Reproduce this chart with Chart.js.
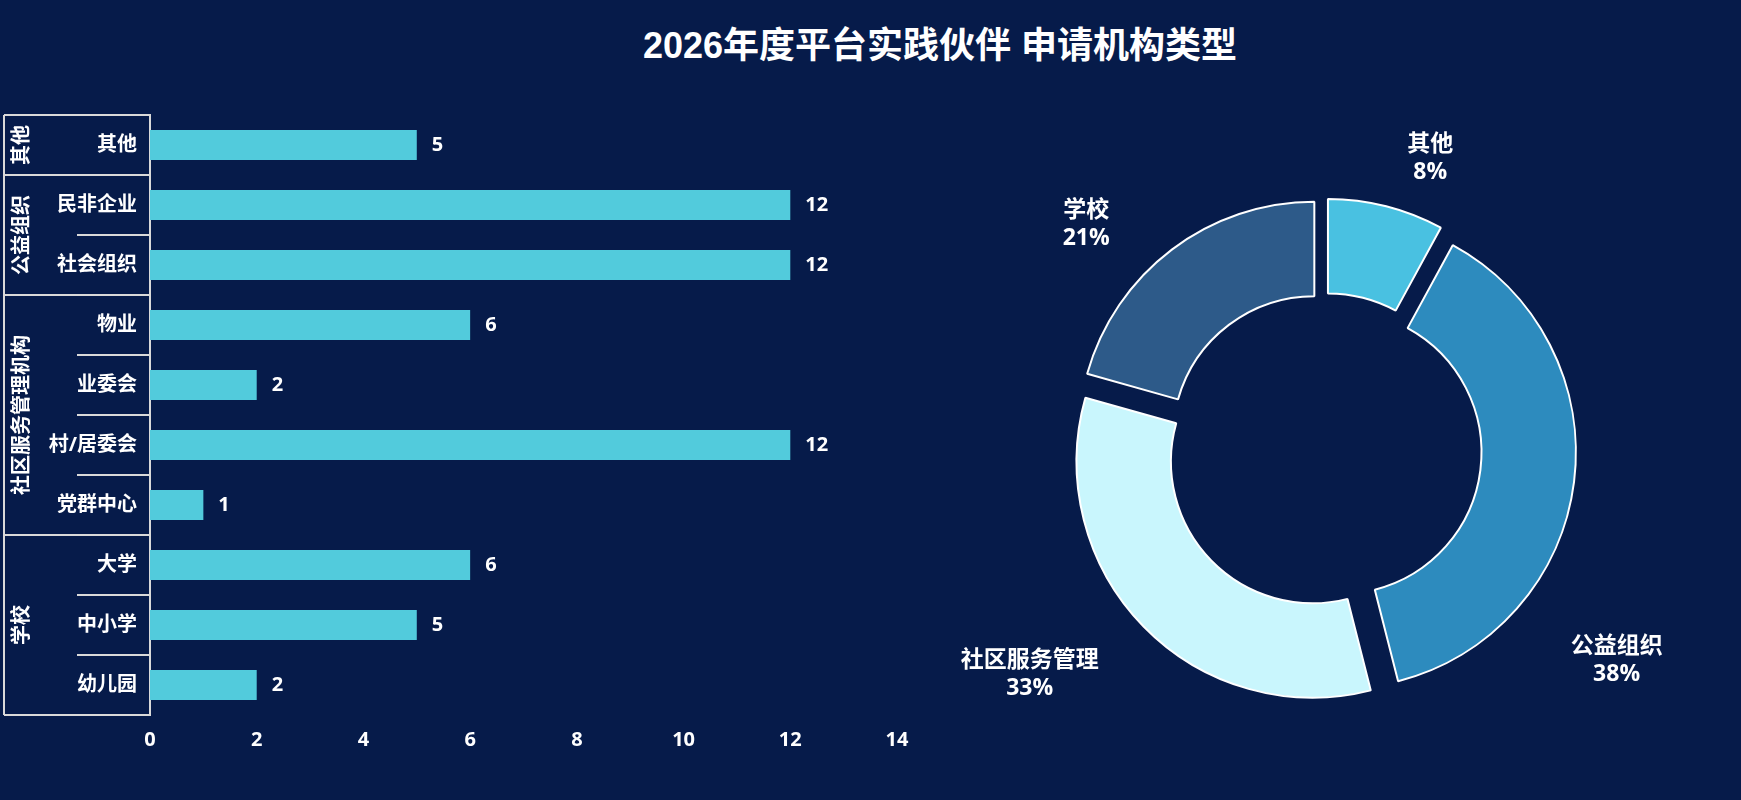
<!DOCTYPE html>
<html lang="zh-CN">
<head>
<meta charset="utf-8">
<title>2026年度平台实践伙伴 申请机构类型</title>
<script src="https://cdn.jsdelivr.net/npm/chart.js@4.4.1/dist/chart.umd.min.js"></script>
<style>
  html, body { margin: 0; padding: 0; background: #061b4a; }
  body { width: 1741px; height: 800px; position: relative; overflow: hidden; }
  #title {
    position: absolute; left: 940px; top: 26px; transform: translateX(-50%);
    color: #fff; white-space: nowrap;
    font: bold 36px/40px "Liberation Sans", "Noto Sans CJK SC", sans-serif;
  }
  #barChart { position: absolute; left: 0; top: 0; }
  #pieChart { position: absolute; left: 960px; top: 0; }
</style>
</head>
<body>
<div id="title">2026年度平台实践伙伴 申请机构类型</div>
<canvas id="barChart" width="930" height="800"></canvas>
<canvas id="pieChart" width="781" height="800"></canvas>
<script>
        // bar chart: institutions, grouped by type (top to bottom)
        const categories = ['其他', '民非企业', '社会组织', '物业', '业委会', '村/居委会', '党群中心', '大学', '中小学', '幼儿园'];
        const counts = [5, 12, 12, 6, 2, 12, 1, 6, 5, 2];
        const groupNames = ['其他', '公益组织', '社区服务管理机构', '学校'];
        const groupSizes = [1, 2, 4, 3];
        const xTicks = [0, 2, 4, 6, 8, 10, 12, 14];

        // doughnut: share by type, clockwise from 12 o'clock
        const pieLabels = ['其他', '公益组织', '社区服务管理', '学校'];
        const pieValues = [5, 24, 21, 13];

        const FONT = '"Open Sans", "Noto Sans CJK SC", sans-serif';
        Chart.defaults.font.family = FONT;
        Chart.defaults.color = '#ffffff';

        // group brackets and rotated group names left of the category labels
        const groupAxisPlugin = {
            id: 'groupAxis',
            afterDraw(chart, args, opts) {
                const { ctx, scales: { y } } = chart;
                const band = (y.bottom - y.top) / categories.length;
                const line = (x1, y1, x2, y2) => {
                    ctx.beginPath();
                    ctx.moveTo(x1, y1);
                    ctx.lineTo(x2, y2);
                    ctx.stroke();
                };

                ctx.save();
                ctx.strokeStyle = opts.color;
                ctx.lineWidth = 2;
                line(opts.left, y.top, opts.left, y.bottom);

                let start = 0;
                groupSizes.forEach((size, g) => {
                    const top = y.top + start * band;
                    const bottom = top + size * band;
                    line(opts.left, top, y.right, top);
                    for (let k = 1; k < size; k++) {
                        line(opts.inner, top + k * band, y.right, top + k * band);
                    }

                    ctx.save();
                    ctx.translate(opts.labelX, (top + bottom) / 2);
                    ctx.rotate(-Math.PI / 2);
                    ctx.fillStyle = '#ffffff';
                    ctx.font = 'bold 20px ' + FONT;
                    ctx.textAlign = 'center';
                    ctx.textBaseline = 'middle';
                    ctx.fillText(groupNames[g], 0, 0);
                    ctx.restore();

                    start += size;
                });
                line(opts.left, y.bottom, y.right, y.bottom);
                ctx.restore();
            }
        };

        // value at the end of every bar
        const barValuePlugin = {
            id: 'barValues',
            afterDatasetsDraw(chart, args, opts) {
                const { ctx } = chart;
                const meta = chart.getDatasetMeta(0);
                ctx.save();
                ctx.fillStyle = '#ffffff';
                ctx.font = 'bold 20px ' + FONT;
                ctx.textAlign = 'left';
                ctx.textBaseline = 'middle';
                meta.data.forEach((bar, i) => {
                    ctx.fillText(String(counts[i]), bar.x + opts.gap, bar.y);
                });
                ctx.restore();
            }
        };

        // pull each arc outward along its middle angle
        const explodePlugin = {
            id: 'explode',
            beforeDatasetsDraw(chart, args, opts) {
                chart.getDatasetMeta(0).data.forEach(arc => {
                    if (arc._shifted) return;
                    const draw = arc.draw;
                    arc.draw = function (ctx) {
                        const mid = (this.startAngle + this.endAngle) / 2;
                        ctx.save();
                        ctx.translate(Math.cos(mid) * opts.distance, Math.sin(mid) * opts.distance);
                        draw.call(this, ctx);
                        ctx.restore();
                    };
                    arc._shifted = true;
                });
            }
        };

        // name + percentage outside the ring
        const ringLabelPlugin = {
            id: 'ringLabels',
            afterDatasetsDraw(chart, args, opts) {
                const { ctx } = chart;
                const meta = chart.getDatasetMeta(0);
                const total = pieValues.reduce((a, b) => a + b, 0);
                ctx.save();
                ctx.fillStyle = '#ffffff';
                ctx.font = 'bold 23px ' + FONT;
                ctx.textAlign = 'center';
                ctx.textBaseline = 'middle';
                meta.data.forEach((arc, i) => {
                    const spot = opts.spots[i];
                    const a = spot.angle * Math.PI / 180;
                    const d = spot.dist * arc.outerRadius;
                    const x = arc.x + Math.sin(a) * d;
                    const y = arc.y - Math.cos(a) * d;
                    ctx.fillText(pieLabels[i], x, y - 14);
                    ctx.fillText(Math.round(pieValues[i] / total * 100) + '%', x, y + 14);
                });
                ctx.restore();
            }
        };

        new Chart(document.getElementById('barChart'), {
            type: 'bar',
            data: {
                labels: categories,
                datasets: [{
                    data: counts,
                    backgroundColor: '#52cbdc',
                    barPercentage: 0.5,
                    categoryPercentage: 1
                }]
            },
            options: {
                indexAxis: 'y',
                responsive: false,
                animation: false,
                layout: { padding: { top: 115, right: 33, bottom: 0, left: 0 } },
                plugins: {
                    legend: { display: false },
                    tooltip: { enabled: false },
                    groupAxis: { color: '#d9d9d9', left: 4, inner: 77, labelX: 22 },
                    barValues: { gap: 15 }
                },
                scales: {
                    x: {
                        min: 0,
                        max: 14,
                        afterBuildTicks: scale => { scale.ticks = xTicks.map(v => ({ value: v })); },
                        afterFit: scale => { scale.height = 85; },
                        ticks: { padding: 13, color: '#ffffff', font: { size: 20, weight: 'bold' } },
                        grid: { display: false, drawTicks: false },
                        border: { display: false }
                    },
                    y: {
                        afterFit: scale => { scale.width = 150; },
                        ticks: { padding: 13, color: '#ffffff', font: { size: 20, weight: 'bold' } },
                        grid: { display: false, drawTicks: false },
                        border: { display: true, color: '#d9d9d9', width: 2 }
                    }
                }
            },
            plugins: [groupAxisPlugin, barValuePlugin]
        });

        new Chart(document.getElementById('pieChart'), {
            type: 'doughnut',
            data: {
                labels: pieLabels,
                datasets: [{
                    data: pieValues,
                    backgroundColor: ['#49c1e1', '#2d8bbe', '#c9f6fd', '#2d5a89'],
                    borderColor: '#ffffff',
                    borderWidth: 2
                }]
            },
            options: {
                responsive: false,
                animation: false,
                radius: 236,
                cutout: '60%',
                layout: { padding: { top: 101, right: 53, bottom: 0, left: 0 } },
                plugins: {
                    legend: { display: false },
                    tooltip: { enabled: false },
                    explode: { distance: 16 },
                    ringLabels: {
                        spots: [
                            { angle: 20, dist: 1.317 },
                            { angle: 125.6, dist: 1.525 },
                            { angle: 232.7, dist: 1.568 },
                            { angle: 313.5, dist: 1.389 }
                        ]
                    }
                }
            },
            plugins: [explodePlugin, ringLabelPlugin]
        });
</script>
</body>
</html>
